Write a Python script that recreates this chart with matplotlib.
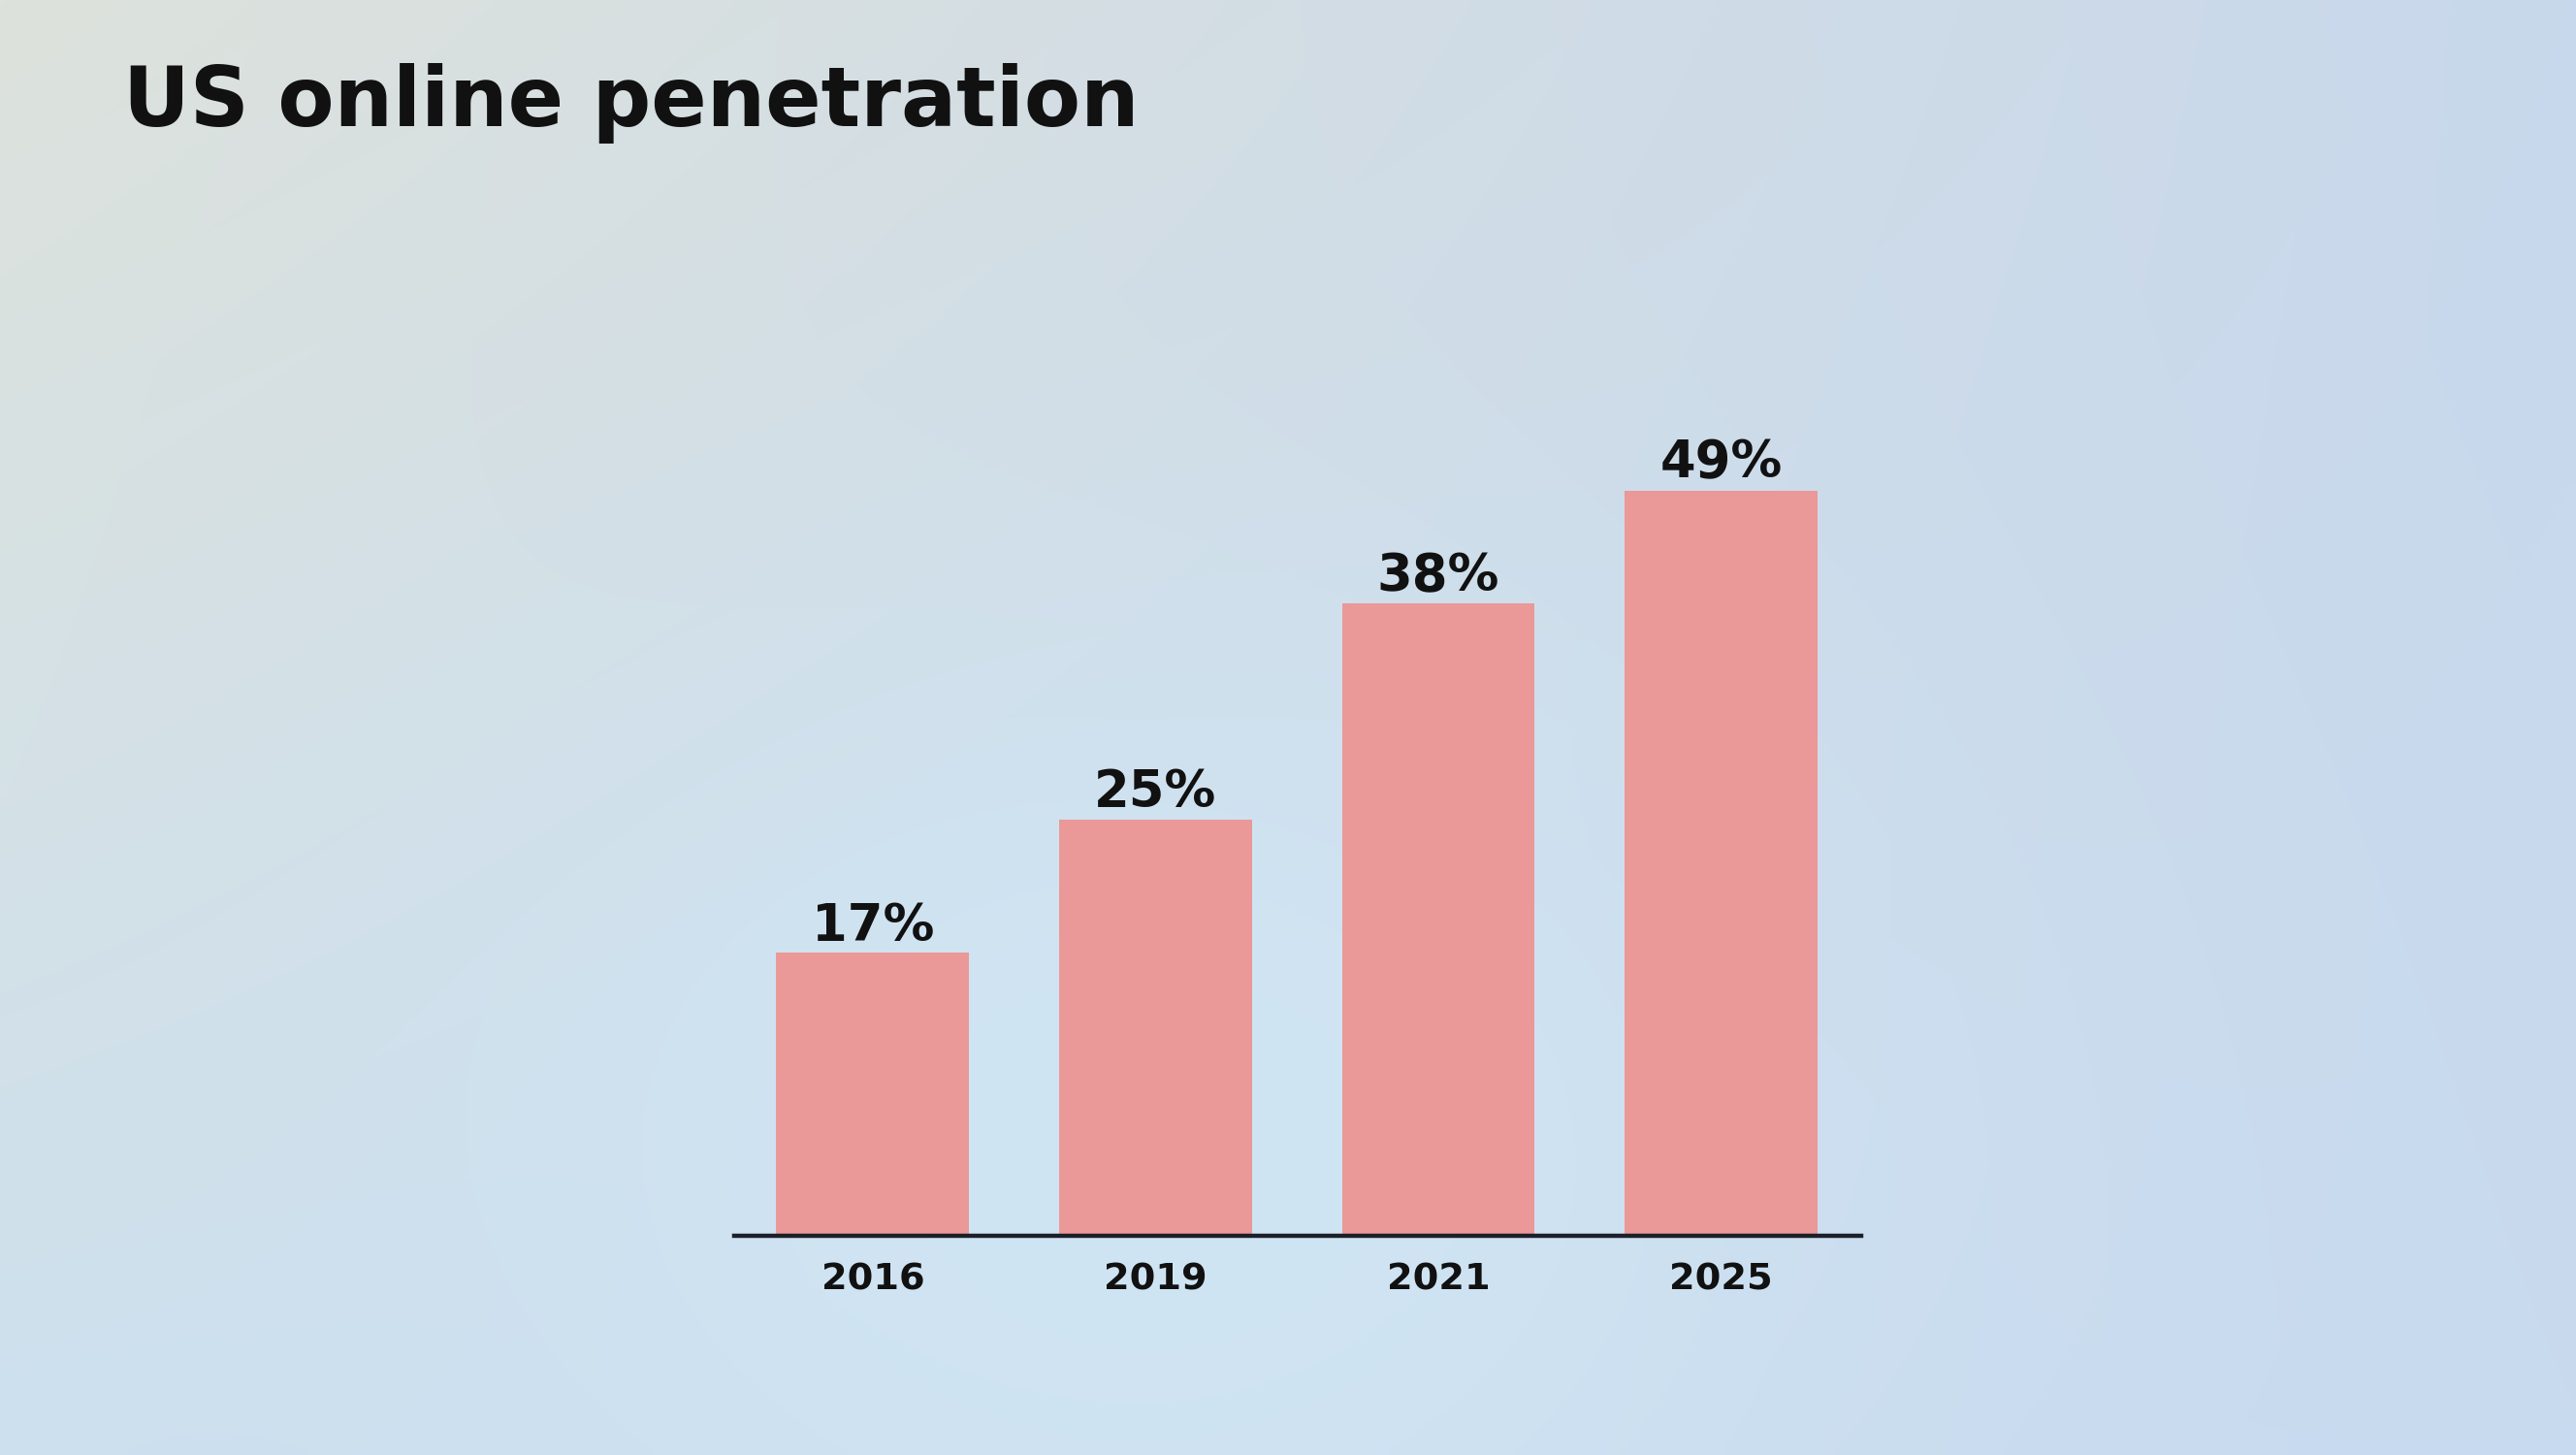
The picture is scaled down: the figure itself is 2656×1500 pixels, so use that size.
import numpy as np
import matplotlib
matplotlib.use('Agg')
import matplotlib.pyplot as plt

# data
years = ['2016', '2019', '2021', '2025']
share_labels = ['17%', '25%', '38%', '49%']
# bar heights as drawn (the 2025 bar is drawn shorter than its label)
bar_heights = [17, 25, 38, 44.8]

title = 'US online penetration'
bar_color = '#eb9898'
text_color = '#111111'

fig = plt.figure(figsize=(26.56, 15), dpi=100)

# soft background gradient
bg = fig.add_axes([0, 0, 1, 1], zorder=0)
tl = np.array([0xdd, 0xe2, 0xdc]) / 255.
tr = np.array([0xc8, 0xd8, 0xec]) / 255.
bl = np.array([0xcd, 0xe0, 0xee]) / 255.
br = np.array([0xc8, 0xda, 0xef]) / 255.
u = np.linspace(0, 1, 300)[None, :, None]
v = np.linspace(0, 1, 170)[:, None, None]
grad = (1 - v) * ((1 - u) * tl + u * tr) + v * ((1 - u) * bl + u * br)
# lighter blue glow under the bars
glow = np.array([0xd0, 0xe5, 0xf4]) / 255.
w = np.exp(-(((u - 0.45) / 0.25) ** 2 + ((v - 0.8) / 0.35) ** 2))
grad = grad * (1 - w) + glow * w
bg.imshow(grad, aspect='auto', extent=[0, 1, 0, 1], interpolation='bilinear')
bg.axis('off')

ax = fig.add_axes([0.285, 0.1507, 0.4375, 0.5717], zorder=1)
ax.patch.set_alpha(0)
x = np.arange(len(years))
bars = ax.bar(x, bar_heights, width=0.682, color=bar_color, zorder=2)
for rect, lab in zip(bars, share_labels):
    ax.text(rect.get_x() + rect.get_width() / 2, rect.get_height() + 0.75, lab,
            ha='center', va='baseline', fontsize=38, fontweight='bold', color=text_color)

ax.set_xlim(-0.49, 3.495)
ax.set_ylim(0, 50)
ax.set_xticks(x)
ax.set_xticklabels(years, fontsize=27.5, fontweight='bold', color=text_color)
ax.tick_params(axis='x', length=0, pad=20)
ax.set_yticks([])
for s in ['top', 'right', 'left']:
    ax.spines[s].set_visible(False)
ax.spines['bottom'].set_linewidth(3.2)
ax.spines['bottom'].set_color('#1c2029')

fig.text(127 / 2656, 1 - 130 / 1500, title, fontsize=61, fontweight='bold',
         color=text_color, ha='left', va='baseline')

fig.savefig('out.png', dpi=100)
plt.close()
